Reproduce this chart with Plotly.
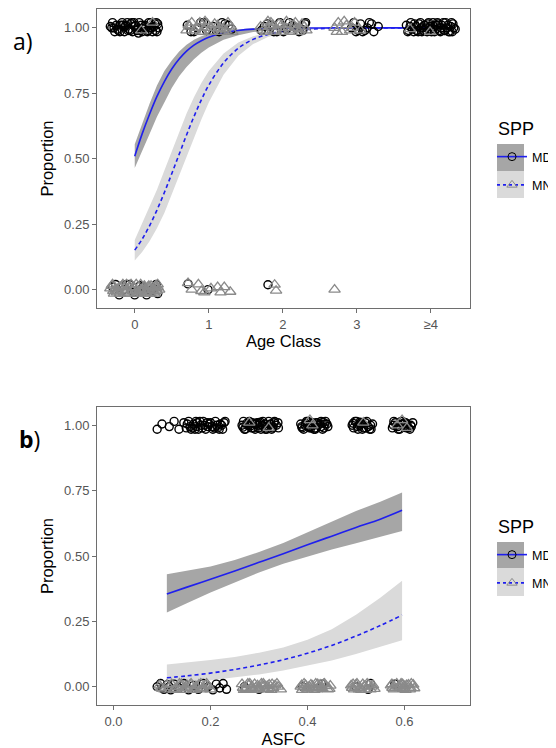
import plotly.graph_objects as go

# ---------------- Panel a) : Age Class ----------------
age_x = [0, 0.1, 0.2, 0.3, 0.4, 0.5, 0.6, 0.7, 0.8, 0.9, 1.0, 1.2, 1.4, 1.6, 1.8, 2.0, 2.5, 3.0, 3.5, 4.0]
age_md_fit = [0.51, 0.595, 0.67, 0.738, 0.795, 0.843, 0.881, 0.911, 0.934, 0.951, 0.964, 0.981, 0.990, 0.995, 0.997, 0.9986, 0.9997, 0.9999, 1.0, 1.0]
age_md_hi = [0.555, 0.635, 0.71, 0.78, 0.835, 0.875, 0.91, 0.935, 0.955, 0.968, 0.978, 0.99, 0.995, 0.998, 0.999, 1.0, 1.0, 1.0, 1.0, 1.0]
age_md_lo = [0.465, 0.53, 0.595, 0.66, 0.715, 0.77, 0.815, 0.85, 0.88, 0.905, 0.925, 0.955, 0.972, 0.984, 0.99, 0.994, 0.998, 0.9995, 0.9999, 1.0]
age_mn_fit = [0.151, 0.193, 0.244, 0.304, 0.371, 0.443, 0.517, 0.591, 0.661, 0.725, 0.781, 0.866, 0.922, 0.956, 0.975, 0.986, 0.997, 0.9993, 0.9999, 1.0]
age_mn_hi = [0.19, 0.253, 0.314, 0.382, 0.455, 0.53, 0.603, 0.673, 0.735, 0.789, 0.835, 0.902, 0.944, 0.968, 0.982, 0.990, 0.998, 0.9996, 1.0, 1.0]
age_mn_lo = [0.111, 0.144, 0.185, 0.235, 0.293, 0.359, 0.43, 0.505, 0.579, 0.65, 0.715, 0.821, 0.893, 0.938, 0.965, 0.98, 0.9956, 0.999, 0.9998, 1.0]

# jittered observations (MD = circles, MN = triangles)
age_md_a0_x = [-0.30, -0.22, -0.12, -0.03, 0.06, 0.15, 0.24, 0.31, -0.27, -0.17, -0.08, 0.01, 0.10, 0.19, 0.28,
               -0.31, -0.20, -0.10, 0.03, 0.13, 0.22, 0.30, -0.25, -0.14, -0.05, 0.08, 0.17, 0.26, -0.01, 0.12,
               -0.28, -0.19, -0.09, 0.00, 0.09, 0.18, 0.27, -0.33, -0.23, -0.13, -0.04, 0.05, 0.14, 0.23, 0.32,
               -0.16, -0.06, 0.04, 0.20, 0.29]
age_md_a0_y = [1.02, 0.99, 1.01, 0.985, 1.02, 1.00, 0.985, 1.015, 0.985, 1.02, 0.995, 1.01, 0.985, 1.02, 0.99,
               1.00, 0.985, 1.02, 0.99, 1.005, 1.02, 0.985, 1.01, 0.985, 1.015, 0.99, 0.985, 1.005, 1.02, 0.995,
               1.0, 1.01, 0.99, 1.005, 1.01, 0.99, 1.015, 1.005, 0.995, 1.005, 1.02, 0.98, 1.01, 1.0, 1.0,
               1.01, 0.99, 1.0, 1.0, 1.02]
age_md_a1_x = [0.71, 0.80, 0.89, 0.97, 1.06, 1.14, 1.22, 1.31, 0.76, 0.93, 1.10, 1.27, 0.85, 1.18]
age_md_a1_y = [1.01, 0.985, 1.02, 0.99, 1.005, 0.985, 1.015, 0.995, 0.985, 1.02, 0.99, 1.01, 1.00, 1.02]
age_md_a2_x = [1.71, 1.79, 1.88, 1.96, 2.05, 2.13, 2.22, 2.31, 1.75, 1.92, 2.09, 2.27, 1.84, 2.01, 2.18, 2.30]
age_md_a2_y = [0.99, 1.015, 0.985, 1.02, 0.995, 1.01, 0.985, 1.02, 1.005, 0.985, 1.02, 0.99, 1.01, 0.985, 1.00, 1.015]
age_md_a3_x = [2.93, 2.99, 3.05, 3.11, 3.17, 3.23, 3.29, 2.96, 3.08, 3.14, 3.20, 3.02]
age_md_a3_y = [1.00, 0.985, 1.015, 0.99, 1.02, 0.985, 1.005, 1.02, 0.985, 1.00, 1.015, 0.99]
age_md_a4_x = [3.70, 3.78, 3.88, 3.97, 4.06, 4.15, 4.24, 4.31, 3.73, 3.83, 3.92, 4.01, 4.10, 4.19, 4.28,
               3.69, 3.80, 3.90, 4.03, 4.13, 4.22, 4.30, 3.75, 3.86, 3.95, 4.08, 4.17, 4.26, 3.99, 4.12,
               3.72, 3.81, 3.91, 4.00, 4.09, 4.18, 4.27, 3.67, 3.77, 3.87, 3.96, 4.05, 4.14, 4.23, 4.33,
               3.84, 3.94, 4.04, 4.20, 4.29]
age_md_a4_y = [0.99, 1.015, 0.985, 1.02, 0.995, 1.01, 0.985, 1.00, 1.02, 0.985, 1.01, 0.985, 1.015, 0.99, 1.02,
               0.985, 1.005, 0.99, 1.02, 0.985, 1.00, 1.015, 0.995, 1.02, 0.985, 1.01, 1.02, 0.985, 1.005, 0.99,
               1.005, 0.99, 1.01, 0.995, 1.02, 0.99, 1.005, 1.01, 0.985, 1.0, 1.015, 0.985, 1.0, 1.01, 0.995,
               1.015, 1.0, 1.005, 1.02, 0.985]
age_md_z0_x = [-0.30, -0.21, -0.11, -0.02, 0.07, 0.16, 0.25, 0.31, -0.26, -0.15, 0.00, 0.11, 0.22, -0.07, 0.29]
age_md_z0_y = [0.01, -0.02, 0.02, -0.01, 0.015, -0.02, 0.005, -0.015, 0.02, 0.0, -0.02, 0.01, -0.005, 0.02, 0.02]
age_md_z12_x = [0.72, 0.99, 1.80]
age_md_z12_y = [0.022, 0.0, 0.019]

age_mn_a0_x = [0.09, 0.24]
age_mn_a0_y = [0.99, 1.02]
age_mn_a1_x = [0.70, 0.77, 0.84, 0.91, 0.98, 1.05, 1.12, 1.19, 1.26, 1.32, 0.74, 0.95, 1.16, 1.03,
               0.73, 0.81, 0.88, 0.96, 1.01, 1.08, 1.15, 1.23, 1.30, 0.90]
age_mn_a1_y = [0.99, 1.02, 1.00, 0.985, 1.015, 0.985, 1.01, 0.995, 1.02, 0.985, 1.005, 1.025, 0.985, 1.00,
               1.01, 0.99, 1.02, 1.0, 0.985, 1.015, 1.0, 0.99, 1.005, 0.985]
age_mn_a2_x = [1.70, 1.77, 1.84, 1.91, 1.98, 2.05, 2.12, 2.19, 2.26, 2.32, 1.80, 2.00, 2.15, 2.24,
               1.73, 1.82, 1.89, 1.95, 2.03, 2.09, 2.17, 2.22, 2.29, 1.87]
age_mn_a2_y = [1.005, 0.985, 1.02, 0.99, 1.01, 1.025, 0.985, 1.00, 1.015, 0.99, 1.025, 0.985, 1.01, 0.995,
               0.99, 1.005, 0.985, 1.015, 1.0, 0.99, 1.02, 0.985, 1.005, 1.01]
age_mn_a3_x = [2.70, 2.75, 2.80, 2.86, 2.91, 2.97, 2.73, 2.83, 2.94, 3.05]
age_mn_a3_y = [1.00, 1.02, 0.985, 1.01, 0.99, 1.02, 0.985, 1.025, 1.00, 0.99]
age_mn_a4_x = [3.72, 3.99]
age_mn_a4_y = [0.995, 0.985]
age_mn_z0_x = [-0.31, -0.24, -0.16, -0.08, 0.00, 0.08, 0.16, 0.24, 0.31, -0.28, -0.19, -0.11, -0.03, 0.05,
               0.13, 0.21, 0.29, -0.26, -0.13, 0.02, 0.18, 0.27, -0.20, -0.05, 0.10, 0.30, -0.30, 0.14,
               -0.29, -0.21, -0.14, -0.06, 0.03, 0.11, 0.19, 0.26, 0.33, -0.33, -0.17, -0.01, 0.07, 0.22,
               -0.10, 0.15, 0.28, -0.23, 0.04, 0.31]
age_mn_z0_y = [0.015, -0.01, 0.02, -0.015, 0.005, 0.02, -0.015, 0.0, 0.02, -0.015, 0.01, 0.02, -0.005, -0.015,
               0.015, -0.015, 0.005, 0.0, -0.015, 0.02, 0.01, -0.015, -0.015, 0.02, -0.01, -0.005, 0.02, 0.005,
               -0.005, 0.01, -0.01, 0.01, -0.015, 0.0, 0.015, -0.01, 0.0, 0.005, 0.015, 0.01, -0.005, 0.015,
               0.0, -0.01, 0.015, -0.005, -0.01, 0.01]
age_mn_z1_x = [0.72, 0.77, 0.86, 0.90, 0.94, 1.03, 1.12, 1.16, 1.21, 1.29, 1.89, 1.91, 2.70]
age_mn_z1_y = [0.025, 0.0, 0.02, -0.005, -0.01, 0.005, 0.01, -0.01, 0.01, -0.008, 0.019, -0.004, 0.0]

# ---------------- Panel b) : ASFC ----------------
asfc_x = [0.11, 0.15, 0.2, 0.25, 0.3, 0.35, 0.4, 0.45, 0.5, 0.55, 0.595]
asfc_md_fit = [0.355, 0.380, 0.411, 0.443, 0.476, 0.509, 0.543, 0.576, 0.609, 0.641, 0.675]
asfc_md_hi = [0.43, 0.443, 0.46, 0.485, 0.515, 0.55, 0.59, 0.632, 0.672, 0.708, 0.743]
asfc_md_lo = [0.284, 0.318, 0.36, 0.40, 0.437, 0.47, 0.498, 0.525, 0.549, 0.573, 0.596]
asfc_mn_fit = [0.034, 0.041, 0.052, 0.066, 0.083, 0.103, 0.128, 0.158, 0.194, 0.234, 0.274]
asfc_mn_hi = [0.085, 0.092, 0.102, 0.114, 0.13, 0.15, 0.18, 0.22, 0.275, 0.34, 0.405]
asfc_mn_lo = [0.013, 0.018, 0.025, 0.035, 0.047, 0.062, 0.08, 0.10, 0.125, 0.152, 0.178]

asfc_md_a1_x = [0.09, 0.10, 0.115, 0.125, 0.135, 0.145, 0.15, 0.155, 0.16, 0.165, 0.17, 0.175, 0.18, 0.185, 0.19,
                0.195, 0.20, 0.205, 0.21, 0.215, 0.22, 0.225, 0.23, 0.158, 0.168, 0.178, 0.198, 0.208, 0.218, 0.228,
                0.152, 0.163, 0.173, 0.183, 0.193, 0.203, 0.213, 0.223, 0.188, 0.17]
asfc_md_a1_y = [0.985, 1.005, 0.995, 1.015, 0.985, 1.01, 0.99, 1.015, 0.985, 1.005, 1.015, 0.985, 1.00, 1.015, 0.985,
                0.995, 1.01, 0.985, 1.015, 0.99, 1.005, 0.985, 1.015, 0.995, 0.985, 1.015, 1.005, 0.99, 0.985, 1.01,
                1.005, 0.99, 1.01, 0.99, 1.01, 0.995, 1.0, 1.0, 1.0, 0.995]
asfc_md_a2_x = [0.265, 0.272, 0.28, 0.288, 0.296, 0.304, 0.312, 0.32, 0.328, 0.336, 0.268, 0.284, 0.30, 0.316, 0.332,
                0.276, 0.292, 0.308, 0.324, 0.34, 0.27, 0.286, 0.31, 0.326, 0.298,
                0.267, 0.275, 0.283, 0.291, 0.299, 0.307, 0.315, 0.323, 0.331, 0.339, 0.279, 0.295, 0.313, 0.329, 0.303]
asfc_md_a2_y = [1.0, 0.985, 1.015, 0.99, 1.01, 0.985, 1.005, 1.015, 0.99, 1.0, 1.015, 0.99, 1.01, 0.985, 1.015,
                1.0, 0.985, 1.015, 1.005, 0.99, 0.985, 1.01, 0.995, 0.985, 1.0,
                0.993, 1.008, 0.998, 1.005, 0.99, 1.0, 0.993, 1.003, 1.01, 1.01, 1.0, 1.005, 0.985, 0.995, 1.012]
asfc_md_a3_x = [0.386, 0.392, 0.398, 0.404, 0.41, 0.416, 0.422, 0.428, 0.434, 0.44, 0.389, 0.401, 0.413, 0.425, 0.437,
                0.395, 0.407, 0.419, 0.431, 0.442, 0.388, 0.396, 0.404, 0.412, 0.42, 0.428, 0.436, 0.4, 0.416, 0.432]
asfc_md_a3_y = [1.005, 0.985, 1.015, 0.995, 1.01, 0.985, 1.0, 1.015, 0.99, 1.005, 0.99, 1.015, 0.985, 1.005, 1.015,
                1.0, 0.99, 1.01, 0.985, 0.995, 0.995, 1.008, 0.99, 1.0, 1.01, 0.995, 1.005, 1.0, 0.99, 1.012]
asfc_md_a4_x = [0.492, 0.498, 0.504, 0.51, 0.516, 0.522, 0.528, 0.534, 0.495, 0.507, 0.519, 0.531, 0.501, 0.513, 0.525,
                0.494, 0.503, 0.512, 0.521, 0.53, 0.508]
asfc_md_a4_y = [1.0, 1.015, 0.985, 1.01, 0.99, 1.015, 0.985, 1.005, 0.99, 1.0, 1.01, 0.985, 1.015, 0.985, 0.995,
                1.008, 0.995, 1.005, 0.99, 1.0, 1.012]
asfc_md_a5_x = [0.575, 0.581, 0.587, 0.593, 0.599, 0.605, 0.611, 0.617, 0.578, 0.59, 0.602, 0.614, 0.584, 0.596, 0.608,
                0.577, 0.586, 0.595, 0.604, 0.613, 0.6]
asfc_md_a5_y = [0.99, 1.01, 0.985, 1.015, 0.995, 1.005, 0.985, 1.01, 1.015, 0.985, 1.01, 0.995, 1.0, 1.015, 0.99,
                1.0, 0.995, 1.005, 0.99, 1.0, 1.01]
asfc_md_z_x = [0.09, 0.097, 0.104, 0.111, 0.118, 0.125, 0.135, 0.145, 0.155, 0.165, 0.175, 0.185, 0.195, 0.205,
               0.212, 0.219, 0.226, 0.233, 0.10, 0.115, 0.27, 0.30, 0.39, 0.43, 0.525, 0.53, 0.50, 0.58]
asfc_md_z_y = [0.0, 0.012, -0.01, 0.008, -0.012, 0.01, -0.005, 0.012, -0.012, 0.005, -0.01, 0.012, 0.0, -0.012,
               0.01, -0.005, 0.012, -0.01, -0.005, 0.0, 0.0, -0.01, 0.0, 0.01, -0.01, 0.012, 0.0, 0.01]

asfc_mn_a_x = [0.28, 0.32, 0.405, 0.41, 0.515, 0.585, 0.595, 0.605]
asfc_mn_a_y = [1.01, 0.99, 1.02, 1.0, 1.01, 1.0, 1.02, 0.99]
asfc_mn_z1_x = [0.095, 0.105, 0.12, 0.128, 0.136, 0.144, 0.152, 0.16, 0.168, 0.176, 0.184, 0.192, 0.2, 0.132, 0.148,
                0.164, 0.18, 0.196, 0.14, 0.172, 0.098, 0.11, 0.124, 0.138, 0.15, 0.158, 0.17, 0.182, 0.19, 0.115]
asfc_mn_z1_y = [0.005, -0.01, 0.01, -0.008, 0.012, -0.012, 0.005, 0.012, -0.01, 0.008, -0.005, 0.012, -0.01, -0.002,
                0.0, -0.012, 0.012, 0.002, 0.01, -0.004, -0.004, 0.008, -0.012, 0.004, -0.006, 0.008, 0.002, -0.01,
                0.006, -0.002]
asfc_mn_z2_x = [0.265, 0.273, 0.281, 0.289, 0.297, 0.305, 0.313, 0.321, 0.329, 0.337, 0.345, 0.269, 0.285, 0.301,
                0.317, 0.333, 0.277, 0.293, 0.309, 0.325, 0.267, 0.279, 0.291, 0.299, 0.311, 0.319, 0.327, 0.339,
                0.283, 0.307]
asfc_mn_z2_y = [0.01, -0.008, 0.012, -0.012, 0.005, 0.012, -0.01, 0.008, -0.005, 0.012, -0.01, -0.012, 0.0, -0.006,
                0.002, 0.005, 0.012, -0.004, 0.012, -0.012, -0.004, 0.006, 0.01, -0.01, 0.004, -0.008, 0.01, 0.0,
                -0.008, 0.0]
asfc_mn_z3_x = [0.386, 0.393, 0.4, 0.407, 0.414, 0.421, 0.428, 0.435, 0.442, 0.447, 0.389, 0.403, 0.417, 0.431,
                0.396, 0.424, 0.388, 0.398, 0.41, 0.419, 0.426, 0.438, 0.445, 0.392, 0.412, 0.433]
asfc_mn_z3_y = [0.0, 0.012, -0.01, 0.008, -0.012, 0.01, -0.005, 0.012, -0.01, 0.004, -0.012, 0.0, 0.012, -0.008,
                0.006, -0.002, 0.006, -0.006, 0.004, -0.01, 0.008, 0.002, -0.008, -0.002, -0.004, 0.01]
asfc_mn_z4_x = [0.49, 0.496, 0.502, 0.508, 0.514, 0.52, 0.526, 0.532, 0.538, 0.499, 0.511, 0.523,
                0.492, 0.5, 0.506, 0.517, 0.53, 0.535, 0.494]
asfc_mn_z4_y = [0.005, -0.01, 0.012, -0.005, 0.01, -0.012, 0.008, 0.0, -0.008, 0.0, -0.012, 0.012,
                -0.004, 0.008, -0.01, 0.002, -0.01, 0.006, 0.01]
asfc_mn_z5_x = [0.572, 0.578, 0.584, 0.59, 0.596, 0.602, 0.608, 0.614, 0.62, 0.575, 0.587, 0.599, 0.611, 0.593,
                0.574, 0.581, 0.592, 0.604, 0.612, 0.618, 0.597]
asfc_mn_z5_y = [0.005, -0.01, 0.012, -0.005, 0.01, -0.012, 0.008, 0.012, -0.006, -0.004, 0.0, 0.003, -0.01, 0.012,
                0.01, -0.006, 0.004, 0.006, -0.004, 0.008, -0.008]

y_ticks = [0, 0.25, 0.5, 0.75, 1.0]
age_ticks = [0, 1, 2, 3, 4]
age_ticktext = ["0", "1", "2", "3", "≥4"]
asfc_ticks = [0.0, 0.2, 0.4, 0.6]
species = ["MD", "MN"]

# ---------------- styles ----------------
BLUE = "#1f1fee"
MD_BAND = "#a6a6a6"
MN_BAND = "#dadada"
TRI_GREY = "#8a8a8a"
FONT = "Liberation Sans, Arial, sans-serif"

fig = go.Figure()


def add_panel(xa, ya, xs, md_fit, md_hi, md_lo, mn_fit, mn_hi, mn_lo, md_pts, mn_pts, legend_name):
    fig.add_trace(go.Scatter(x=xs + xs[::-1], y=mn_hi + mn_lo[::-1], fill="toself", fillcolor=MN_BAND,
                             line=dict(width=0), mode="lines", showlegend=False, hoverinfo="skip",
                             xaxis=xa, yaxis=ya))
    fig.add_trace(go.Scatter(x=xs + xs[::-1], y=md_hi + md_lo[::-1], fill="toself", fillcolor=MD_BAND,
                             line=dict(width=0), mode="lines", showlegend=False, hoverinfo="skip",
                             xaxis=xa, yaxis=ya))
    fig.add_trace(go.Scatter(x=xs, y=mn_fit, mode="lines", line=dict(color=BLUE, width=1.6, dash="4px,3px",
                             shape="spline"), showlegend=False, xaxis=xa, yaxis=ya))
    fig.add_trace(go.Scatter(x=xs, y=md_fit, mode="lines", line=dict(color=BLUE, width=1.6, shape="spline"),
                             showlegend=False, xaxis=xa, yaxis=ya))
    fig.add_trace(go.Scatter(x=md_pts[0], y=md_pts[1], mode="markers",
                             marker=dict(symbol="circle-open", size=8, color="black", line=dict(width=1.4)),
                             showlegend=False, xaxis=xa, yaxis=ya))
    fig.add_trace(go.Scatter(x=mn_pts[0], y=mn_pts[1], mode="markers",
                             marker=dict(symbol="triangle-up-open", size=10, color=TRI_GREY, line=dict(width=1.3)),
                             showlegend=False, xaxis=xa, yaxis=ya))
    # legend entries
    fig.add_trace(go.Scatter(x=[None], y=[None], mode="lines+markers", name=species[0], legend=legend_name,
                             legendgroup=legend_name + "md",
                             line=dict(color=BLUE, width=1.6),
                             marker=dict(symbol="circle-open", size=8, color="black", line=dict(width=1)),
                             xaxis=xa, yaxis=ya))
    fig.add_trace(go.Scatter(x=[None], y=[None], mode="lines+markers", name=species[1], legend=legend_name,
                             legendgroup=legend_name + "mn",
                             line=dict(color=BLUE, width=1.6, dash="3px,3px"),
                             marker=dict(symbol="triangle-up-open", size=9, color=TRI_GREY, line=dict(width=1)),
                             xaxis=xa, yaxis=ya))


age_md_pts = (age_md_a0_x + age_md_a1_x + age_md_a2_x + age_md_a3_x + age_md_a4_x + age_md_z0_x + age_md_z12_x,
              age_md_a0_y + age_md_a1_y + age_md_a2_y + age_md_a3_y + age_md_a4_y + age_md_z0_y + age_md_z12_y)
age_mn_pts = (age_mn_a0_x + age_mn_a1_x + age_mn_a2_x + age_mn_a3_x + age_mn_a4_x + age_mn_z0_x + age_mn_z1_x,
              age_mn_a0_y + age_mn_a1_y + age_mn_a2_y + age_mn_a3_y + age_mn_a4_y + age_mn_z0_y + age_mn_z1_y)
asfc_md_pts = (asfc_md_a1_x + asfc_md_a2_x + asfc_md_a3_x + asfc_md_a4_x + asfc_md_a5_x + asfc_md_z_x,
               asfc_md_a1_y + asfc_md_a2_y + asfc_md_a3_y + asfc_md_a4_y + asfc_md_a5_y + asfc_md_z_y)
asfc_mn_pts = (asfc_mn_a_x + asfc_mn_z1_x + asfc_mn_z2_x + asfc_mn_z3_x + asfc_mn_z4_x + asfc_mn_z5_x,
               asfc_mn_a_y + asfc_mn_z1_y + asfc_mn_z2_y + asfc_mn_z3_y + asfc_mn_z4_y + asfc_mn_z5_y)

add_panel("x", "y", age_x, age_md_fit, age_md_hi, age_md_lo, age_mn_fit, age_mn_hi, age_mn_lo,
          age_md_pts, age_mn_pts, "legend")
add_panel("x2", "y2", asfc_x, asfc_md_fit, asfc_md_hi, asfc_md_lo, asfc_mn_fit, asfc_mn_hi, asfc_mn_lo,
          asfc_md_pts, asfc_mn_pts, "legend2")

axis_common = dict(showline=True, linecolor="#6e6e6e", linewidth=1, mirror=True, showgrid=False, zeroline=False,
                   ticks="outside", ticklen=4, tickcolor="#6e6e6e", tickwidth=1, automargin=False,
                   tickfont=dict(size=13, color="#555555", family=FONT))
title_font = dict(size=16.5, color="black", family=FONT)

# The page places the figure 8 px from the top-left corner of the window, so the
# figure is 548x740 and all target positions below are given in window pixels.
OFF = 8
FW, FH = 556 - OFF, 748 - OFF
L, T = 97 - OFF, 9 - OFF          # plot area left / top inside the figure
PW, PH = 373, 696                 # plot area 97..470 x 9..705 in window pixels


def sx(p):
    return (p - OFF - L) / PW


def sy(p):
    return (T + PH - (p - OFF)) / PH


top_dom = [sy(308), 1.0]
bot_dom = [0.0, sy(407)]

legend_common = dict(xanchor="left", yanchor="top", bgcolor="rgba(0,0,0,0)", tracegroupgap=9,
                     font=dict(size=12.5, color="black", family=FONT), itemwidth=30)

key_x0, key_x1 = sx(497), sx(524)
fig.update_layout(
    width=FW, height=FH,
    margin=dict(l=L, r=FW - L - PW, t=T, b=FH - T - PH, autoexpand=False),
    paper_bgcolor="white", plot_bgcolor="white",
    font=dict(family=FONT),
    xaxis=dict(axis_common, domain=[0, 1], anchor="y", range=[-0.51, 4.53], tickvals=age_ticks,
               ticktext=age_ticktext, title=dict(text="Age Class", font=title_font, standoff=4)),
    yaxis=dict(axis_common, domain=top_dom, anchor="x", range=[-0.07, 1.072], tickvals=y_ticks,
               tickformat=".2f", title=dict(text="Proportion", font=title_font, standoff=6)),
    xaxis2=dict(axis_common, domain=[0, 1], anchor="y2", range=[-0.034, 0.735], tickvals=asfc_ticks,
                tickformat=".1f", title=dict(text="ASFC", font=title_font, standoff=5)),
    yaxis2=dict(axis_common, domain=bot_dom, anchor="x2", range=[-0.07, 1.07], tickvals=y_ticks,
                tickformat=".2f", title=dict(text="Proportion", font=title_font, standoff=6)),
    legend=dict(legend_common, x=sx(492), y=sy(142)),
    legend2=dict(legend_common, x=sx(492), y=sy(540)),
    annotations=[
        dict(text="a)", xref="paper", yref="paper", x=sx(11), y=sy(41),
             xanchor="left", yanchor="middle", showarrow=False,
             font=dict(size=23, color="black", family="Open Sans, sans-serif")),
        dict(text="<b>b</b>)", xref="paper", yref="paper", x=sx(17), y=sy(439),
             xanchor="left", yanchor="middle", showarrow=False,
             font=dict(size=23, color="black", family="Open Sans, sans-serif")),
        dict(text="SPP", xref="paper", yref="paper", x=sx(496), y=sy(128.5),
             xanchor="left", yanchor="middle", showarrow=False,
             font=dict(size=18, color="black", family=FONT)),
        dict(text="SPP", xref="paper", yref="paper", x=sx(496), y=sy(527),
             xanchor="left", yanchor="middle", showarrow=False,
             font=dict(size=18, color="black", family=FONT)),
    ],
    shapes=[
        dict(type="rect", xref="paper", yref="paper", x0=key_x0, x1=key_x1,
             y0=sy(171), y1=sy(144), fillcolor=MD_BAND, line=dict(width=0), layer="above"),
        dict(type="rect", xref="paper", yref="paper", x0=key_x0, x1=key_x1,
             y0=sy(198), y1=sy(171), fillcolor=MN_BAND, line=dict(width=0), layer="above"),
        dict(type="rect", xref="paper", yref="paper", x0=key_x0, x1=key_x1,
             y0=sy(568), y1=sy(542), fillcolor=MD_BAND, line=dict(width=0), layer="above"),
        dict(type="rect", xref="paper", yref="paper", x0=key_x0, x1=key_x1,
             y0=sy(596), y1=sy(568), fillcolor=MN_BAND, line=dict(width=0), layer="above"),
    ],
)

fig.write_html("out.html")
